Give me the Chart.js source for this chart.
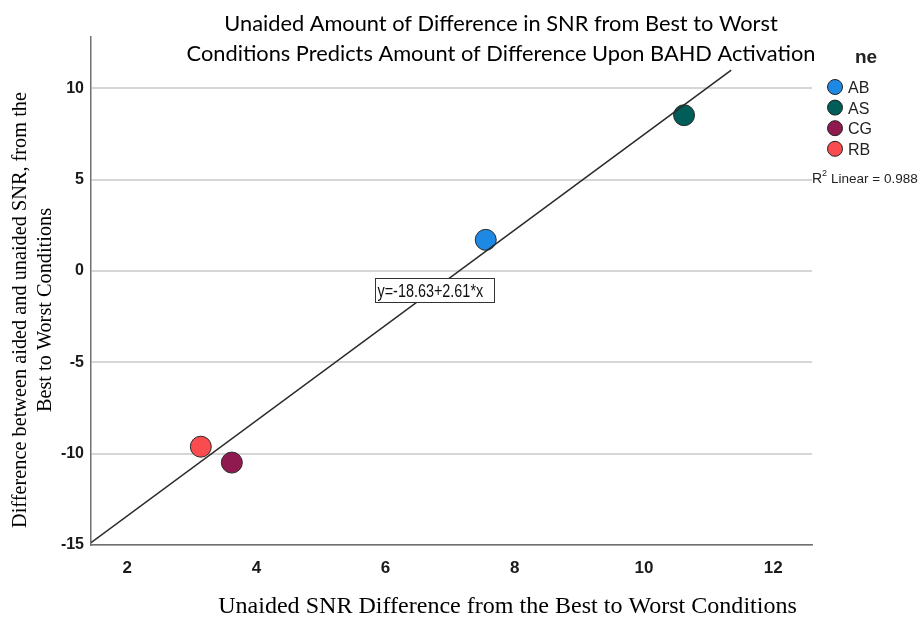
<!DOCTYPE html>
<html>
<head>
<meta charset="utf-8">
<script src="https://cdn.jsdelivr.net/npm/chart.js@4.4.1/dist/chart.umd.min.js"></script>
<style>
  html, body { margin: 0; background: #fff; }
  #wrap { width: 922px; height: 619px; }
</style>
</head>
<body>
<div id="wrap"><canvas id="chart" width="922" height="619"></canvas></div>
<script>
// values
const names = ['AB', 'AS', 'CG', 'RB'];
const unaidedDiff = [7.55, 10.62, 3.62, 3.14];
const bahdDiff = [1.70, 8.52, -10.49, -9.62];
const colors = ['#1e88e5', '#005d58', '#8e1a4f', '#fa4b4f'];
const fitX = [1.44, 11.35];
const fitY = [-14.87, 10.99];
const xTicks = [2, 4, 6, 8, 10, 12];
const yTicks = [-15, -10, -5, 0, 5, 10];
const equation = 'y=-18.63+2.61*x';
const rSquared = 'Linear = 0.988';
const titleLines = [
  'Unaided Amount of Difference in SNR from Best to Worst',
  'Conditions Predicts Amount of Difference Upon BAHD Activation',
];
const yTitleLines = ['Difference between aided and unaided SNR, from the', 'Best to Worst Conditions'];
const xTitle = 'Unaided SNR Difference from the Best to Worst Conditions';
const legendTitle = 'ne';

// font size that makes text span the given width
function fitSize(ctx, text, family, weight, width) {
  ctx.font = `${weight} 20px ${family}`;
  return 20 * width / ctx.measureText(text).width;
}

const overlay = {
  id: 'overlay',
  afterDatasetsDraw(chart) {
    const { ctx, scales: { x, y } } = chart;
    const bx = Math.round(x.getPixelForValue(5.83)) + 0.5;
    const by = Math.round(y.getPixelForValue(-0.37)) + 0.5;
    ctx.save();
    ctx.fillStyle = '#fff';
    ctx.strokeStyle = '#333';
    ctx.lineWidth = 1;
    ctx.fillRect(bx, by, 119, 24);
    ctx.strokeRect(bx, by, 119, 24);
    ctx.translate(bx + 2, by + 18);
    ctx.scale(0.8, 1);
    ctx.fillStyle = '#111';
    ctx.font = '18px "Liberation Sans", Arial, sans-serif';
    ctx.textBaseline = 'alphabetic';
    ctx.fillText(equation, 0, 0);
    ctx.restore();
  },
  afterDraw(chart) {
    const ctx = chart.ctx;
    ctx.save();
    ctx.fillStyle = '#000';
    ctx.textBaseline = 'alphabetic';

    // title
    const ts = fitSize(ctx, titleLines[1], 'Lato, sans-serif', 'normal', 629);
    ctx.font = `${ts}px Lato, sans-serif`;
    ctx.textAlign = 'center';
    ctx.fillText(titleLines[0], 501, 31);
    ctx.fillText(titleLines[1], 501, 61);

    // x title
    const xs = fitSize(ctx, xTitle, '"Liberation Serif", serif', 'normal', 579);
    ctx.font = `${xs}px "Liberation Serif", serif`;
    ctx.fillText(xTitle, 507.5, 613);

    // y title
    const ys = fitSize(ctx, yTitleLines[0], '"Liberation Serif", serif', 'normal', 436);
    ctx.font = `${ys}px "Liberation Serif", serif`;
    ctx.save();
    ctx.translate(0, 310);
    ctx.rotate(-Math.PI / 2);
    ctx.fillText(yTitleLines[0], 0, 26);
    ctx.fillText(yTitleLines[1], 0, 51);
    ctx.restore();

    // legend
    ctx.textAlign = 'left';
    ctx.font = 'bold 19px "Liberation Sans", Arial, sans-serif';
    ctx.fillStyle = '#222';
    ctx.fillText(legendTitle, 855, 63);
    ctx.font = '16px "Liberation Sans", Arial, sans-serif';
    names.forEach((n, i) => {
      const cy = 87 + i * 20.6;
      ctx.beginPath();
      ctx.arc(835, cy, 7.5, 0, Math.PI * 2);
      ctx.fillStyle = colors[i];
      ctx.fill();
      ctx.strokeStyle = '#222';
      ctx.lineWidth = 1;
      ctx.stroke();
      ctx.fillStyle = '#222';
      ctx.fillText(n, 848, cy + 6);
    });

    // R squared
    ctx.font = '14px "Liberation Sans", Arial, sans-serif';
    ctx.fillText('R', 812, 183);
    ctx.font = '9px "Liberation Sans", Arial, sans-serif';
    ctx.fillText('2', 822, 176);
    ctx.font = '13.5px "Liberation Sans", Arial, sans-serif';
    ctx.fillText(rSquared, 831, 183);
    ctx.restore();
  }
};

const tickFont = { family: '"Liberation Sans", Arial, sans-serif', weight: 'bold' };

new Chart(document.getElementById('chart'), {
  type: 'scatter',
  data: {
    datasets: [
      {
        type: 'line',
        data: fitX.map((v, i) => ({ x: v, y: fitY[i] })),
        borderColor: '#2b2b2b',
        borderWidth: 1.6,
        pointRadius: 0,
        order: 0,
      },
      ...names.map((n, i) => ({
        label: n,
        data: [{ x: unaidedDiff[i], y: bahdDiff[i] }],
        backgroundColor: colors[i],
        borderColor: '#2a2a2a',
        borderWidth: 1,
        pointRadius: 10.5,
        order: 1,
      })),
    ],
  },
  options: {
    responsive: false,
    animation: false,
    layout: { padding: { left: 0, top: 37, right: 110, bottom: 0 } },
    plugins: { legend: { display: false }, tooltip: { enabled: false } },
    scales: {
      x: {
        type: 'linear',
        min: 1.44,
        max: 12.6,
        afterFit: s => { s.height = 74; },
        afterBuildTicks: s => { s.ticks = xTicks.map(v => ({ value: v })); },
        grid: { display: false },
        border: { display: true, color: '#707070', width: 1.5 },
        ticks: { font: { ...tickFont, size: 17 }, color: '#1a1a1a', padding: 5, maxRotation: 0 },
      },
      y: {
        type: 'linear',
        min: -15,
        max: 12.8,
        afterFit: s => { s.width = 91; },
        afterBuildTicks: s => { s.ticks = yTicks.map(v => ({ value: v })); },
        grid: { color: '#d6d6d6', lineWidth: 2, drawTicks: false },
        border: { display: true, color: '#707070', width: 1.5 },
        ticks: { font: { ...tickFont, size: 16 }, color: '#1a1a1a', padding: 7 },
      },
    },
  },
  plugins: [overlay],
});
</script>
</body>
</html>
